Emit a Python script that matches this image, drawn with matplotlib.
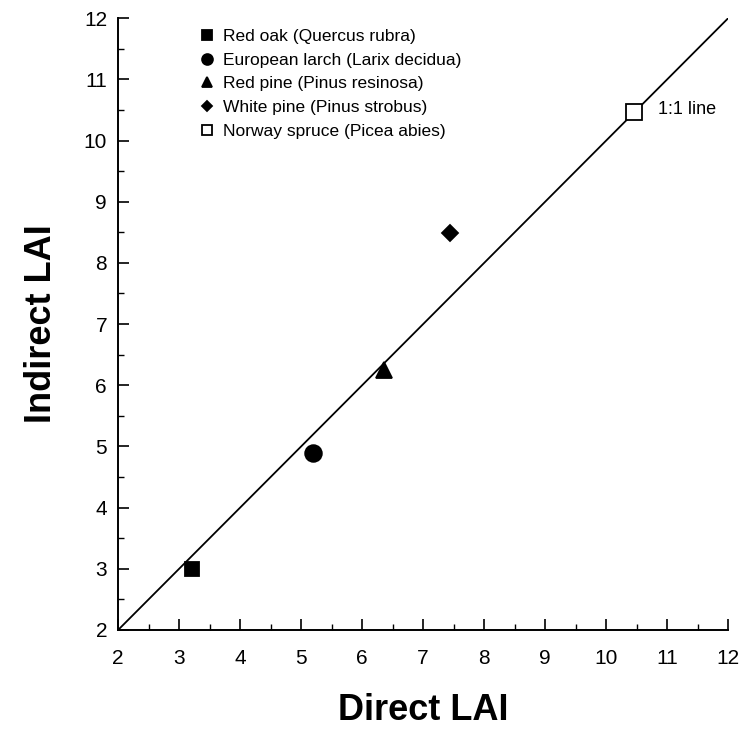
import matplotlib
matplotlib.use("Agg")
import matplotlib.pyplot as plt
from matplotlib.ticker import MultipleLocator

plt.rcParams['font.family'] = ['Liberation Sans', 'DejaVu Sans']

# daten: direct vs indirect LAI
species = ['Red oak (Quercus rubra)', 'European larch (Larix decidua)',
           'Red pine (Pinus resinosa)', 'White pine (Pinus strobus)',
           'Norway spruce (Picea abies)']
direct_lai = [3.21, 5.2, 6.36, 7.44, 10.46]
indirect_lai = [3.0, 4.89, 6.25, 8.49, 10.46]
markers = ['s', 'o', '^', 'D', 's']
sizes = [10.5, 12, 11, 8, 11]
filled = [True, True, True, True, False]
one_to_one = [2, 12]

fig = plt.figure(figsize=(7.53, 7.29), dpi=100)
ax = fig.add_axes([0.157, 0.136, 0.81, 0.839])

ax.plot(one_to_one, one_to_one, color='black', lw=1.3, zorder=1)

for name, x, y, m, s, f in zip(species, direct_lai, indirect_lai, markers, sizes, filled):
    ax.plot(x, y, linestyle='none', marker=m, markersize=s,
            markerfacecolor='black' if f else 'white', markeredgecolor='black',
            markeredgewidth=1.3, label=name, zorder=3)

ax.text(10.85, 10.5, '1:1 line', fontsize=13, va='center', ha='left')

leg = ax.legend(loc='upper left', bbox_to_anchor=(0.117, 1.0), frameon=False,
                fontsize=12.5, markerscale=0.65, handlelength=0.8, handletextpad=0.5,
                labelspacing=0.5, borderaxespad=0.2)

ax.set_xlim(2, 12)
ax.set_ylim(2, 12)
ax.xaxis.set_major_locator(MultipleLocator(1))
ax.yaxis.set_major_locator(MultipleLocator(1))
ax.xaxis.set_minor_locator(MultipleLocator(0.5))
ax.yaxis.set_minor_locator(MultipleLocator(0.5))
ax.tick_params(which='major', direction='in', length=8, width=1.2, labelsize=15, pad=8)
ax.tick_params(axis='x', which='major', pad=14)
ax.tick_params(which='minor', direction='in', length=4, width=1.0)

for side in ['top', 'right']:
    ax.spines[side].set_visible(False)
for side in ['left', 'bottom']:
    ax.spines[side].set_linewidth(1.4)

ax.set_xlabel('Direct LAI', fontsize=26, fontweight='bold', labelpad=18)
ax.set_ylabel('Indirect LAI', fontsize=26, fontweight='bold', labelpad=18)

fig.savefig('out.png', dpi=100)
